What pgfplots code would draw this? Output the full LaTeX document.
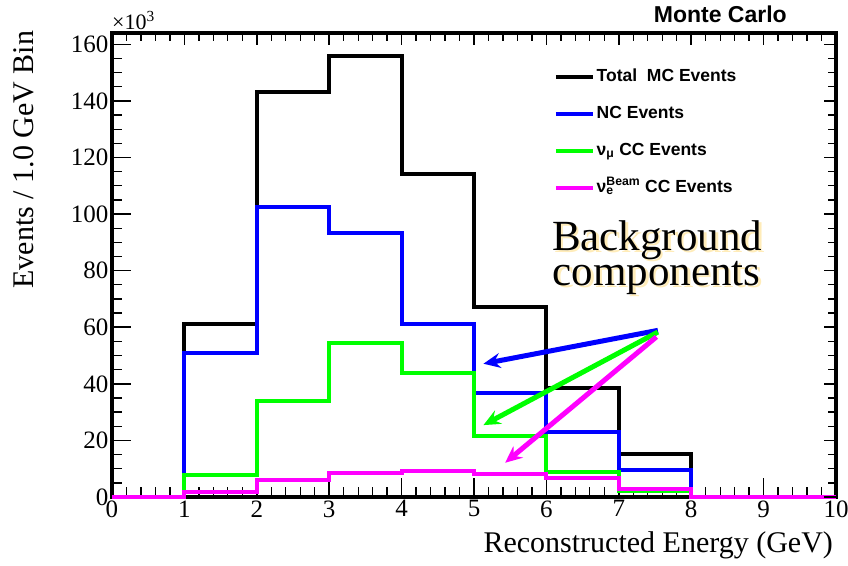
\documentclass[border=0pt]{standalone}
\usepackage{fontspec}
\setmainfont{Liberation Serif}
\newfontfamily\helv{Liberation Sans}
\usepackage{pgfplots}
\usepackage{pgfplotstable}
\pgfplotsset{compat=1.18}
\usetikzlibrary{arrows.meta}

\definecolor{rootblue}{RGB}{0,0,255}
\definecolor{rootgreen}{RGB}{0,255,0}
\definecolor{rootmagenta}{RGB}{255,0,255}
\definecolor{shadowyellow}{RGB}{255,236,185}

% events per 1 GeV bin, in thousands (bin lower edge in x)
\pgfplotstableread{
x   total  nc     numu  nue
0   0      0      0     0
1   61.0   51.0   7.8   1.6
2   143.2  102.6  34.0  6.0
3   156.0  93.2   54.3  8.4
4   114.0  61.1   43.7  9.3
5   67.2   36.6   21.6  8.3
6   38.4   23.1   8.9   6.6
7   15.2   9.5    2.0   2.9
8   0      0      0     0
9   0      0      0     0
10  0      0      0     0
}\histdata

\tikzset{bgtext/.style={font=\fontsize{43}{43}\selectfont, inner sep=0pt, anchor=base}}

\begin{document}
\begin{tikzpicture}
\useasboundingbox (-112pt,-68pt) rectangle (736pt,497pt);
\begin{axis}[
  at={(0,0)}, anchor=south west,
  scale only axis, width=724pt, height=464pt,
  xmin=0, xmax=10, ymin=0, ymax=164,
  clip=false,
  axis line style={draw=none},
  % thick frame drawn underneath the histograms
  axis background/.style={draw=black, line width=3.6pt, line join=miter},
  xtick={0,1,...,10}, ytick={0,20,...,160},
  minor x tick num=4, minor y tick num=3,
  tick pos=left, tick align=inside,
  major tick length=19pt, minor tick length=10pt,
  major tick style={line width=1.6pt, black},
  minor tick style={line width=1.3pt, black},
  ticklabel style={font=\fontsize{25}{25}\selectfont},
  /pgf/number format/assume math mode=true,
  xlabel={Reconstructed Energy (GeV)},
  ylabel={Events / 1.0 GeV Bin},
  label style={font=\fontsize{30}{30}\selectfont, inner sep=0pt},
  xlabel style={at={(rel axis cs:0.996,-0.1034)}, anchor=east},
  ylabel style={at={(rel axis cs:-0.122,1.005)}, anchor=east, rotate=0},
  const plot mark left,
  every axis plot/.append style={line width=4pt, line join=miter},
  legend image code/.code={\draw[#1, line width=3.5pt] (0pt,0pt) -- (37pt,0pt);},
  legend cell align=left,
  legend style={
    at={(rel axis cs:0.6105,0.9267)}, anchor=north west,
    draw=none, fill=none, inner sep=0pt,
    font=\helv\bfseries\fontsize{17.5}{17.5}\selectfont,
    row sep=17pt,
    nodes={inner sep=2pt, text height=12pt, text depth=4pt},
    /tikz/every even column/.append style={column sep=4pt},
  },
]
\addplot[black] table[x=x, y=total] {\histdata};
\addlegendentry{Total\ \ MC Events}
\addplot[rootblue] table[x=x, y=nc] {\histdata};
\addlegendentry{NC Events}
\addplot[rootgreen] table[x=x, y=numu] {\histdata};
\addlegendentry{ν\textsubscript{μ} CC Events}
\addplot[rootmagenta] table[x=x, y=nue] {\histdata};
\addlegendentry{ν\rlap{\textsubscript{e}}\textsuperscript{Beam} CC Events}

% annotation
\node[bgtext, text=shadowyellow] at ([xshift=2.5pt,yshift=-2.5pt]axis cs:7.53,87.3) {Background};
\node[bgtext, text=shadowyellow] at ([xshift=2.5pt,yshift=-2.5pt]axis cs:7.52,74.9) {components};
\node[bgtext] at (axis cs:7.53,87.3) {Background};
\node[bgtext] at (axis cs:7.52,74.9) {components};

\draw[rootblue, line width=5pt, -{Stealth[length=17pt,width=15pt,inset=6pt]}]
  (axis cs:7.54,58.9) -- (axis cs:5.13,47.1);
\draw[rootgreen, line width=5pt, -{Stealth[length=17pt,width=15pt,inset=6pt]}]
  (axis cs:7.54,58.3) -- (axis cs:5.13,25.4);
\draw[rootmagenta, line width=5pt, -{Stealth[length=17pt,width=15pt,inset=6pt]}]
  (axis cs:7.52,56.6) -- (axis cs:5.43,12.1);

\node[anchor=base east, inner sep=0pt, font=\helv\bfseries\fontsize{23}{23}\selectfont]
  at (rel axis cs:0.9323,1.0216) {Monte Carlo};
\node[anchor=base west, inner sep=0pt, font=\fontsize{22}{22}\selectfont]
  at (rel axis cs:0,1.0086) {×10\textsuperscript{3}};
\end{axis}
% ticks along the top and right edges
\begin{axis}[
  at={(0,0)}, anchor=south west,
  scale only axis, width=724pt, height=464pt,
  xmin=0, xmax=10, ymin=0, ymax=164,
  axis line style={draw=none},
  xtick={0,1,...,10}, ytick={0,20,...,160},
  minor x tick num=4, minor y tick num=3,
  tick pos=right, tick align=inside,
  xticklabels={}, yticklabels={},
  major tick length=12pt, minor tick length=8pt,
  major tick style={line width=1.6pt, black},
  minor tick style={line width=1.3pt, black},
]
\end{axis}
\end{tikzpicture}
\end{document}
